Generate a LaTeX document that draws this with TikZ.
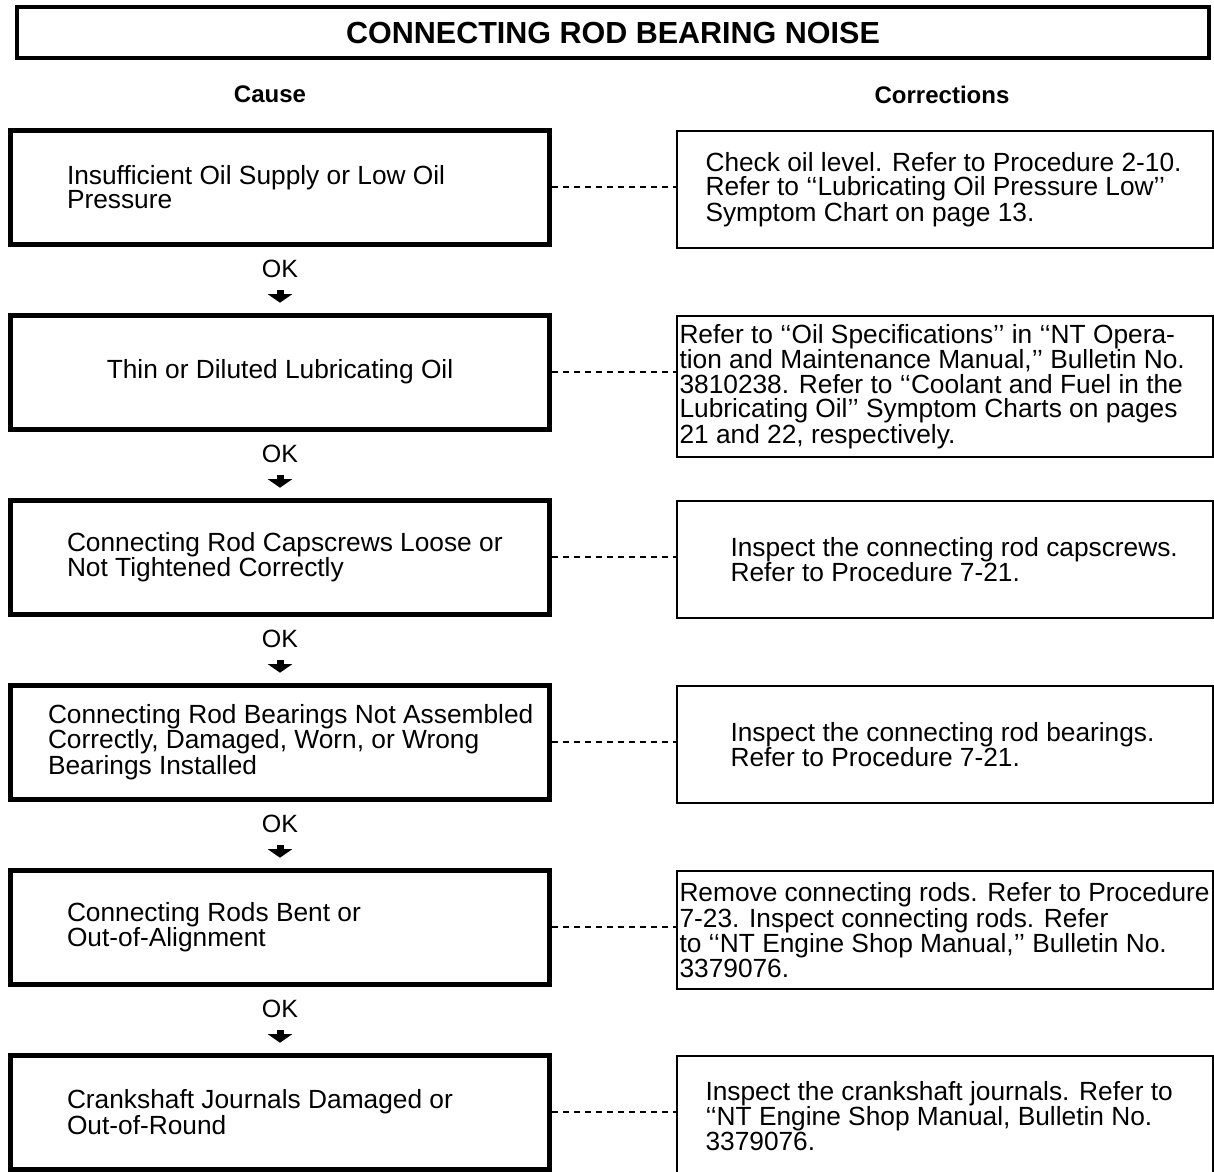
\documentclass[tikz,border=0pt]{standalone}
\usepackage{fontspec}
\setmainfont{Liberation Sans}
\usepackage{tikz}
\usetikzlibrary{calc}
\usetikzlibrary{positioning}
\usetikzlibrary{arrows.meta}

\begin{document}
\begin{tikzpicture}[x=1pt,y=1pt]
\tikzstyle{causebox}=[rectangle,draw,line width=5pt,minimum width=539pt,minimum height=114pt]
\tikzstyle{fixbox}=[rectangle,draw,line width=2pt,minimum width=536pt,minimum height=117pt,anchor=north west]
\tikzstyle{boxtext}=[inner sep=0pt,outer sep=0pt,align=left,anchor=west,font=\fontsize{26.3}{24.5}\selectfont]
\tikzstyle{oklabel}=[inner sep=0pt,outer sep=0pt,font=\fontsize{25}{25}\selectfont]
\tikzstyle{okarrow}=[line width=7pt,-{Triangle[width=24pt,length=8.5pt]}]
\tikzstyle{link}=[dash pattern=on 6pt off 5pt,line width=1.4pt]
\tikzstyle{head}=[font=\bfseries\fontsize{24}{24}\selectfont]
\useasboundingbox (0,0) rectangle (1214,-1171);
\node[draw,line width=4.3pt,minimum width=1192pt,minimum height=51pt,inner sep=0pt,
      font=\bfseries\fontsize{30.5}{30}\selectfont] at (613,-32.5) (title) {CONNECTING ROD BEARING NOISE};
\node[head] at (270,-94.5) (cause) {Cause};
\node[head] at (942,-94.5) (fix) {Corrections};
% causes
\node[causebox] at (280,-187) (c1) {};
\node[causebox] at (280,-372) (c2) {};
\node[causebox] at (280,-557) (c3) {};
\node[causebox] at (280,-742) (c4) {};
\node[causebox] at (280,-927) (c5) {};
\node[causebox] at (280,-1112) (c6) {};
\node[boxtext,right=59pt of c1.west] (c1t) {Insufficient Oil Supply or Low Oil\\Pressure};
\node[boxtext,anchor=center,align=center] at (c2) (c2t) {Thin or Diluted Lubricating Oil};
\node[boxtext,right=59pt of c3.west] (c3t) {Connecting Rod Capscrews Loose or\\Not Tightened Correctly};
\node[boxtext,right=40pt of c4.west] (c4t) {Connecting Rod Bearings Not Assembled\\Correctly, Damaged, Worn, or Wrong\\Bearings Installed};
\node[boxtext,right=59pt of c5.west] (c5t) {Connecting Rods Bent or\\Out-of-Alignment};
\node[boxtext,right=59pt of c6.west] (c6t) {Crankshaft Journals Damaged or\\Out-of-Round};
% corrections
\node[fixbox] at (675.5,-130) (f1) {};
\node[fixbox,minimum height=141pt] at (675.5,-315) (f2) {};
\node[fixbox] at (675.5,-500) (f3) {};
\node[fixbox] at (675.5,-685) (f4) {};
\node[fixbox,minimum height=118pt] at (675.5,-870) (f5) {};
\node[fixbox,minimum height=120pt] at (675.5,-1055) (f6) {};
\node[boxtext,right=30pt of f1.west] (f1t) {Check oil level. Refer to Procedure 2-10.\\Refer to ‘‘Lubricating Oil Pressure Low’’\\Symptom Chart on page 13.};
\node[boxtext,right=4pt of f2.west] (f2t) {Refer to ‘‘Oil Specifications’’ in ‘‘NT Opera-\\tion and Maintenance Manual,’’ Bulletin No.\\3810238. Refer to ‘‘Coolant and Fuel in the\\Lubricating Oil’’ Symptom Charts on pages\\21 and 22, respectively.};
\node[boxtext,right=55pt of f3.west] (f3t) {Inspect the connecting rod capscrews.\\Refer to Procedure 7-21.};
\node[boxtext,right=55pt of f4.west] (f4t) {Inspect the connecting rod bearings.\\Refer to Procedure 7-21.};
\node[boxtext,right=4pt of f5.west] (f5t) {Remove connecting rods. Refer to Procedure\\7-23. Inspect connecting rods. Refer\\to ‘‘NT Engine Shop Manual,’’ Bulletin No.\\3379076.};
\node[boxtext,right=30pt of f6.west] (f6t) {Inspect the crankshaft journals. Refer to\\‘‘NT Engine Shop Manual, Bulletin No.\\3379076.};
% dashed links
\draw[link] (c1.east) -- (c1.east -| f1.west);
\draw[link] (c2.east) -- (c2.east -| f2.west);
\draw[link] (c3.east) -- (c3.east -| f3.west);
\draw[link] (c4.east) -- (c4.east -| f4.west);
\draw[link] (c5.east) -- (c5.east -| f5.west);
\draw[link] (c6.east) -- (c6.east -| f6.west);
% OK steps
\node[oklabel,below=13.5pt of c1] (ok1) {OK};
\node[oklabel,below=13.5pt of c2] (ok2) {OK};
\node[oklabel,below=13.5pt of c3] (ok3) {OK};
\node[oklabel,below=13.5pt of c4] (ok4) {OK};
\node[oklabel,below=13.5pt of c5] (ok5) {OK};
\draw[okarrow] ([yshift=-12.5pt]ok1.south) -- ([yshift=-25pt]ok1.south);
\draw[okarrow] ([yshift=-12.5pt]ok2.south) -- ([yshift=-25pt]ok2.south);
\draw[okarrow] ([yshift=-12.5pt]ok3.south) -- ([yshift=-25pt]ok3.south);
\draw[okarrow] ([yshift=-12.5pt]ok4.south) -- ([yshift=-25pt]ok4.south);
\draw[okarrow] ([yshift=-12.5pt]ok5.south) -- ([yshift=-25pt]ok5.south);
\end{tikzpicture}
\end{document}
